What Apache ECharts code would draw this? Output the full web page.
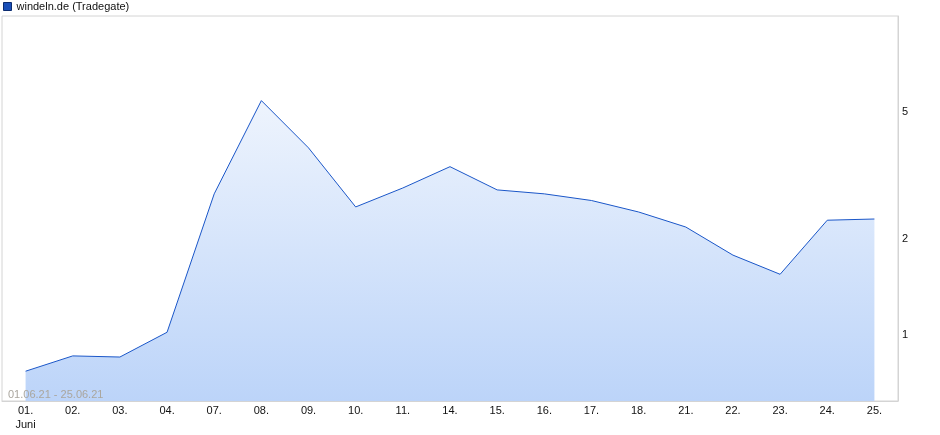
<!DOCTYPE html>
<html>
<head>
<meta charset="utf-8">
<script src="https://cdn.jsdelivr.net/npm/echarts@6/dist/echarts.min.js"></script>
<style>
html,body{margin:0;padding:0;background:#fff;}
#chart{width:940px;height:435px;}
</style>
</head>
<body>
<div id="chart"></div>
<script>
const seriesName = 'windeln.de (Tradegate)';
const categories = ['01.','02.','03.','04.','07.','08.','09.','10.','11.','14.','15.','16.','17.','18.','21.','22.','23.','24.','25.'];
const values = [0.77, 0.86, 0.853, 1.02, 2.77, 5.43, 3.86, 2.52, 2.89, 3.37, 2.85, 2.77, 2.64, 2.43, 2.18, 1.78, 1.55, 2.29, 2.31];
const yTicks = [1, 2, 5];
const monthLabel = 'Juni';
const rangeLabel = '01.06.21 - 25.06.21';
const yMin = 0.621;
const yMax = 10;

const font = '"Liberation Sans", Arial, sans-serif';
const chart = echarts.init(document.getElementById('chart'), null, {renderer: 'canvas'});
chart.setOption({
  animation: false,
  textStyle: {fontFamily: font},
  legend: {
    left: 3, top: 1, padding: 0,
    itemWidth: 8, itemHeight: 8, itemGap: 5,
    icon: 'rect',
    textStyle: {fontSize: 11, color: '#111', fontFamily: font, padding: [0, 0, 0, 0]},
    data: [{name: seriesName, itemStyle: {color: '#1a4fb8', borderColor: '#0c2c70', borderWidth: 1}}]
  },
  grid: {
    left: 2, right: 42, top: 16, bottom: 34,
    show: true, borderColor: '#d4d4d4', borderWidth: 1,
    containLabel: false
  },
  graphic: [{
    type: 'text', left: 8, top: 389, z: 100, zlevel: 0,
    style: {text: rangeLabel, fill: '#aaa69e', font: '11px ' + font}
  }],
  xAxis: {
    type: 'category',
    data: categories,
    boundaryGap: true,
    axisLine: {show: true, lineStyle: {color: '#d4d4d4'}},
    axisTick: {show: false},
    axisLabel: {
      interval: 0, margin: 3, color: '#111', fontSize: 11, fontFamily: font, lineHeight: 14,
      formatter: function (v, i) { return i === 0 ? v + '\n' + monthLabel : v; }
    },
    splitLine: {show: false}
  },
  yAxis: {
    type: 'log',
    logBase: 10,
    position: 'right',
    min: yMin, max: yMax,
    axisLine: {show: true, lineStyle: {color: '#d4d4d4'}},
    axisTick: {show: false},
    splitLine: {show: false},
    minorSplitLine: {show: false},
    axisLabel: {
      customValues: yTicks,
      margin: 4, color: '#111', fontSize: 11, fontFamily: font,
      formatter: function (v) { return String(Math.round(v)); }
    }
  },
  series: [{
    name: seriesName,
    type: 'line',
    data: values,
    symbol: 'none',
    z: 2,
    lineStyle: {color: '#1a56c8', width: 1},
    itemStyle: {color: '#1a4fb8'},
    areaStyle: {
      origin: 'start',
      opacity: 1,
      color: new echarts.graphic.LinearGradient(0, 0, 0, 1, [
        {offset: 0, color: '#eef4fd'},
        {offset: 1, color: '#bcd4f9'}
      ])
    }
  }]
});
</script>
</body>
</html>
